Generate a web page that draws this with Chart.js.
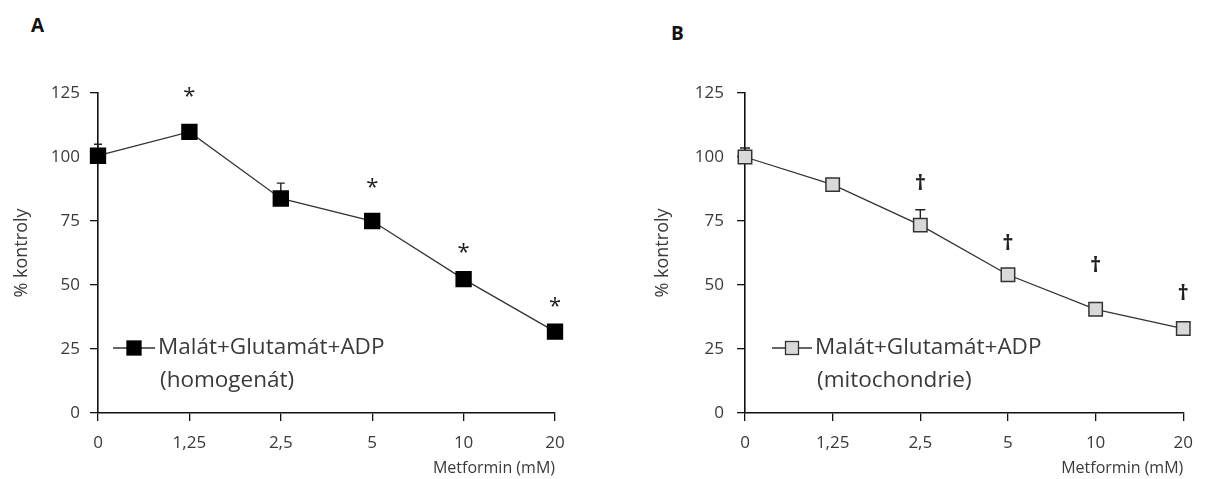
<!DOCTYPE html>
<html>
<head>
<meta charset="utf-8">
<script src="https://cdn.jsdelivr.net/npm/chart.js@4"></script>
<style>
  body { margin: 0; background: #fff; width: 1205px; height: 479px; overflow: hidden; position: relative; font-family: "Open Sans", sans-serif; }
  .panel { position: absolute; top: 0; height: 479px; }
  #wrapA { left: 0; width: 620px; }
  #wrapB { left: 620px; width: 585px; }
  .tag { position: absolute; font: bold 19px/1 "Open Sans", sans-serif; color: #111; }
</style>
</head>
<body>
<div class="tag" style="left:31px;top:16px">A</div>
<div class="tag" style="left:671px;top:24px">B</div>
<div class="panel" id="wrapA"><canvas id="chartA" width="620" height="479"></canvas></div>
<div class="panel" id="wrapB"><canvas id="chartB" width="585" height="479"></canvas></div>
<script>
(() => {
  // data
  const doses = ['0', '1,25', '2,5', '5', '10', '20'];
  const yTicks = [0, 25, 50, 75, 100, 125];

  const homogenat = [100.5, 109.8, 83.8, 75, 52.3, 31.8];
  const homogenatErr = [4.5, 1.5, 6, 2, 2, 1.5];
  const homogenatSig = ['', '*', '', '*', '*', '*'];
  const homogenatSigAt = [0, 123.5, 0, 88, 62.5, 41.5];

  const mito = [100, 89.2, 73.4, 54, 40.5, 33];
  const mitoErr = [3.5, 1.5, 6, 2, 1.5, 1.5];
  const mitoSig = ['', '', '†', '†', '†', '†'];
  const mitoSigAt = [0, 0, 89.5, 66, 57.5, 46.5];

  const legendLine1 = 'Malát+Glutamát+ADP';

  const font = '"Open Sans", sans-serif';
  const txt = '#3a3a3a';

  // error bars (upper half only), significance marks and the in-plot legend
  const extras = {
    id: 'extras',
    beforeDatasetsDraw(chart) {
      const { ctx } = chart;
      const o = chart.options.plugins.extras;
      const xs = chart.scales.x, ys = chart.scales.y;
      ctx.save();
      ctx.strokeStyle = '#222';
      ctx.lineWidth = 1.4;
      o.err.forEach((e, i) => {
        const x = xs.getPixelForValue(i);
        const y0 = ys.getPixelForValue(o.values[i]);
        const y1 = ys.getPixelForValue(o.values[i] + e);
        ctx.beginPath();
        ctx.moveTo(x, y0); ctx.lineTo(x, y1);
        ctx.moveTo(x - o.cap, y1); ctx.lineTo(x + o.cap, y1);
        ctx.stroke();
      });
      ctx.restore();
    },
    afterDraw(chart) {
      const { ctx, chartArea } = chart;
      const o = chart.options.plugins.extras;
      const xs = chart.scales.x, ys = chart.scales.y;
      ctx.save();
      ctx.fillStyle = '#222';
      ctx.textAlign = 'center';
      ctx.textBaseline = 'middle';
      ctx.font = o.sigFont;
      o.sig.forEach((s, i) => {
        if (!s) return;
        ctx.fillText(s, xs.getPixelForValue(i), ys.getPixelForValue(o.sigAt[i]));
      });

      // legend
      const lx = chartArea.left + o.legend.dx, ly = o.legend.y;
      ctx.strokeStyle = '#333';
      ctx.lineWidth = 1.3;
      ctx.beginPath();
      ctx.moveTo(lx, ly); ctx.lineTo(lx + o.legend.len, ly);
      ctx.stroke();
      const c = lx + o.legend.len / 2, h = o.legend.box / 2;
      ctx.fillStyle = o.fill;
      ctx.fillRect(c - h, ly - h, h * 2, h * 2);
      ctx.strokeStyle = o.edge;
      ctx.strokeRect(c - h, ly - h, h * 2, h * 2);
      ctx.fillStyle = txt;
      ctx.textAlign = 'left';
      ctx.font = '22.5px ' + font;
      ctx.fillText(legendLine1, lx + o.legend.len + 3, ly);
      ctx.fillText(o.legend.sub, lx + o.legend.len + 5, ly + 33);
      ctx.restore();
    }
  };

  const build = (id, values, cfg) => new Chart(document.getElementById(id), {
    type: 'line',
    data: {
      labels: doses,
      datasets: [{
        data: values,
        borderColor: '#333',
        borderWidth: 1.3,
        pointStyle: 'rect',
        pointRadius: cfg.pointRadius,
        pointBackgroundColor: cfg.fill,
        pointBorderColor: cfg.edge,
        pointBorderWidth: 1.5,
        tension: 0
      }]
    },
    options: {
      responsive: false,
      animation: false,
      layout: { padding: { top: 93, right: cfg.padRight, bottom: 0, left: 0 } },
      plugins: {
        legend: { display: false },
        tooltip: { enabled: false },
        extras: {
          values, err: cfg.err, cap: cfg.cap, sig: cfg.sig, sigAt: cfg.sigAt, sigFont: cfg.sigFont,
          fill: cfg.fill, edge: cfg.edge, legend: cfg.legend
        }
      },
      scales: {
        x: {
          type: 'category',
          offset: false,
          afterFit: s => { s.height = 66; },
          grid: { drawOnChartArea: false, color: '#111', tickLength: 8, lineWidth: 1.3 },
          border: { color: '#111', width: 1.6 },
          ticks: { color: txt, padding: 12, font: { family: font, size: 17 }, maxRotation: 0 },
          title: {
            display: true, text: 'Metformin (mM)', align: 'end', color: txt,
            font: { family: font, size: 16 }, padding: { top: 0, bottom: 1 }
          }
        },
        y: {
          min: 0, max: 125,
          afterBuildTicks: s => { s.ticks = yTicks.map(v => ({ value: v })); },
          afterFit: s => { s.width = cfg.yWidth; },
          grid: { drawOnChartArea: false, color: '#111', tickLength: 8, lineWidth: 1.3 },
          border: { color: '#111', width: 1.6 },
          ticks: { color: txt, padding: cfg.yPad, font: { family: font, size: 17 } },
          title: {
            display: true, text: '% kontroly', color: txt,
            font: { family: font, size: 18 }, padding: { top: cfg.titlePad, bottom: 0 }
          }
        }
      }
    },
    plugins: [extras]
  });

  build('chartA', homogenat, {
    pointRadius: 10.5, fill: '#000', edge: '#000', padRight: 65, yWidth: 98, yPad: 10, titlePad: 11,
    err: homogenatErr, cap: 4, sig: homogenatSig, sigAt: homogenatSigAt, sigFont: '22px ' + font,
    legend: { dx: 15, y: 348, len: 42, box: 14, sub: '(homogenát)' }
  });
  build('chartB', mito, {
    pointRadius: 9.5, fill: '#d9d9d9', edge: '#333', padRight: 15, yWidth: 125, yPad: 13, titlePad: 32,
    err: mitoErr, cap: 5, sig: mitoSig, sigAt: mitoSigAt, sigFont: 'bold 22px ' + font,
    legend: { dx: 27, y: 348, len: 40, box: 13, sub: '(mitochondrie)' }
  });
})();
</script>
</body>
</html>
